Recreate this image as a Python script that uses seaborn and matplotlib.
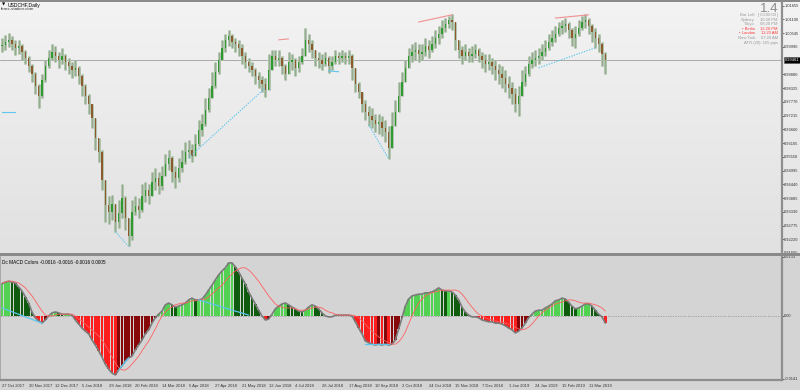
import numpy as np
import pandas as pd
import matplotlib
matplotlib.use("Agg")
import matplotlib.pyplot as plt
import matplotlib.transforms as mtrans
from matplotlib.patches import Rectangle
from matplotlib.colors import LinearSegmentedColormap
import seaborn as sns

# ---------------- data (USDCHF, 2-day bars, prices in 1e-4) ----------------
first_open_pips = 10003
close_pips = [
    10007, 10019, 10027, 10011, 9995, 10003, 9978, 9954, 9922, 9890,
    9841, 9801, 9866, 9922, 9954, 9978, 9962, 9946, 9962, 9938,
    9922, 9906, 9914, 9882, 9841, 9801, 9769, 9712, 9632, 9575,
    9463, 9362, 9334, 9366, 9293, 9326, 9390, 9309, 9237, 9334,
    9358, 9342, 9398, 9422, 9398, 9455, 9471, 9438, 9479, 9527,
    9551, 9495, 9471, 9511, 9535, 9575, 9584, 9559, 9608, 9664,
    9688, 9745, 9793, 9841, 9898, 9946, 9995, 10027, 10043, 10019,
    10011, 9995, 9962, 9938, 9922, 9906, 9882, 9866, 9850, 9825,
    9906, 9962, 9946, 9954, 9922, 9890, 9938, 9946, 9914, 9938,
    9962, 10027, 10011, 9987, 9954, 9946, 9930, 9954, 9922, 9938,
    9962, 9954, 9962, 9954, 9962, 9914, 9850, 9817, 9769, 9737,
    9721, 9704, 9688, 9696, 9672, 9656, 9592, 9680, 9737, 9801,
    9858, 9914, 9962, 9978, 9987, 9970, 9978, 10003, 9987, 10011,
    10035, 10051, 10075, 10091, 10107, 10099, 10027, 9987, 9962, 9978,
    9962, 9970, 9987, 9962, 9946, 9930, 9938, 9922, 9906, 9890,
    9874, 9850, 9833, 9809, 9769, 9801, 9858, 9890, 9930, 9946,
    9954, 9962, 9978, 9995, 10019, 10035, 10051, 10075, 10083, 10091,
    10067, 10035, 10051, 10075, 10099, 10107, 10083, 10059, 10035, 10011,
    9970, 9946]
high_pips = [
    10035, 10047, 10055, 10043, 10027, 10027, 10011, 9987, 9962, 9930,
    9898, 9850, 9890, 9946, 9987, 10011, 10003, 9978, 9995, 9970,
    9954, 9938, 9946, 9922, 9890, 9850, 9809, 9769, 9712, 9624,
    9584, 9463, 9398, 9402, 9358, 9382, 9447, 9398, 9309, 9382,
    9398, 9390, 9447, 9455, 9447, 9495, 9511, 9495, 9519, 9567,
    9584, 9559, 9519, 9551, 9584, 9616, 9624, 9608, 9648, 9704,
    9729, 9793, 9833, 9898, 9938, 9978, 10027, 10051, 10067, 10051,
    10035, 10027, 10011, 9978, 9954, 9938, 9914, 9898, 9882, 9874,
    9970, 9987, 9987, 9987, 9962, 9930, 9978, 9970, 9954, 9962,
    9995, 10075, 10051, 10027, 9987, 9978, 9970, 9978, 9962, 9962,
    9987, 9978, 9987, 9978, 9987, 9970, 9906, 9858, 9817, 9785,
    9761, 9753, 9729, 9729, 9721, 9704, 9680, 9737, 9785, 9858,
    9898, 9946, 9995, 10011, 10019, 10011, 10011, 10035, 10027, 10043,
    10067, 10083, 10107, 10115, 10124, 10132, 10099, 10027, 10003, 10011,
    9995, 10003, 10011, 9995, 9978, 9970, 9970, 9954, 9946, 9930,
    9922, 9906, 9882, 9858, 9833, 9841, 9906, 9922, 9962, 9978,
    9987, 9995, 10011, 10027, 10051, 10067, 10083, 10099, 10107, 10115,
    10099, 10075, 10083, 10107, 10124, 10132, 10115, 10091, 10075, 10051,
    10019, 9978]
low_pips = [
    9978, 9987, 9999, 9987, 9966, 9970, 9946, 9930, 9898, 9858,
    9809, 9753, 9793, 9858, 9914, 9946, 9938, 9914, 9930, 9906,
    9890, 9874, 9882, 9850, 9801, 9769, 9729, 9672, 9584, 9535,
    9422, 9293, 9285, 9301, 9253, 9269, 9309, 9261, 9193, 9221,
    9318, 9309, 9334, 9374, 9366, 9398, 9422, 9406, 9422, 9479,
    9503, 9455, 9430, 9455, 9495, 9527, 9551, 9535, 9559, 9600,
    9640, 9680, 9737, 9793, 9833, 9890, 9946, 9978, 10003, 9995,
    9978, 9962, 9930, 9914, 9898, 9882, 9850, 9833, 9817, 9797,
    9850, 9922, 9922, 9922, 9890, 9866, 9898, 9906, 9882, 9898,
    9930, 9962, 9978, 9954, 9922, 9914, 9906, 9922, 9894, 9906,
    9930, 9930, 9938, 9930, 9930, 9866, 9817, 9793, 9737, 9704,
    9680, 9672, 9656, 9648, 9640, 9616, 9547, 9624, 9680, 9753,
    9809, 9866, 9914, 9938, 9946, 9938, 9946, 9962, 9954, 9978,
    9995, 10011, 10035, 10059, 10075, 10067, 9987, 9954, 9930, 9946,
    9938, 9938, 9954, 9938, 9914, 9898, 9906, 9890, 9866, 9850,
    9833, 9817, 9793, 9769, 9737, 9721, 9809, 9841, 9882, 9914,
    9922, 9930, 9946, 9962, 9987, 10003, 10019, 10043, 10051, 10059,
    10035, 10003, 9995, 10043, 10067, 10075, 10051, 10019, 9995, 9978,
    9922, 9890]

# MACD histogram and signal, in 1e-4
macd_e4 = [
    72, 76, 78, 76, 74, 65, 56, 43, 29, 9,
    -4, -11, -16, -9, 0, 7, 9, 7, 4, 4,
    4, 2, -9, -18, -27, -34, -40, -54, -65, -78,
    -92, -108, -119, -128, -132, -121, -112, -101, -94, -90,
    -76, -65, -54, -40, -31, -16, -4, 4, 11, 25,
    29, 25, 20, 22, 25, 29, 36, 40, 36, 36,
    38, 47, 58, 69, 81, 92, 101, 108, 119, 119,
    110, 99, 85, 72, 54, 40, 27, 13, 0, -9,
    -7, 4, 16, 22, 27, 29, 25, 20, 16, 11,
    9, 13, 20, 25, 22, 16, 7, 0, -2, -2,
    2, 2, 2, 2, 2, 0, -13, -27, -40, -56,
    -60, -63, -65, -63, -65, -63, -65, -63, -54, -29,
    -4, 22, 38, 45, 47, 49, 49, 52, 52, 54,
    58, 63, 58, 56, 56, 54, 47, 36, 20, 9,
    2, -2, -2, -4, -9, -11, -13, -13, -16, -16,
    -18, -22, -27, -31, -38, -34, -27, -16, -4, 4,
    11, 13, 13, 18, 22, 27, 34, 36, 40, 38,
    31, 22, 16, 18, 22, 27, 27, 22, 13, 4,
    -2, -16]
signal_e4 = [
    74, 76, 78, 78, 76, 74, 69, 63, 54, 45,
    34, 22, 11, 2, 0, 0, 2, 4, 4, 4,
    4, 4, 0, -7, -11, -18, -25, -31, -38, -45,
    -54, -65, -78, -92, -105, -116, -121, -121, -116, -108,
    -99, -90, -78, -67, -56, -43, -29, -13, 0, 9,
    16, 20, 25, 27, 29, 29, 31, 34, 34, 36,
    36, 38, 43, 49, 56, 63, 69, 78, 87, 94,
    101, 105, 108, 108, 103, 96, 87, 78, 67, 56,
    45, 36, 27, 22, 20, 18, 18, 18, 16, 13,
    13, 13, 16, 18, 20, 20, 18, 13, 9, 7,
    4, 2, 2, 2, 2, 2, 0, -4, -11, -18,
    -27, -34, -40, -47, -52, -56, -60, -63, -63, -58,
    -49, -36, -18, 0, 16, 29, 38, 45, 49, 52,
    54, 56, 58, 58, 58, 58, 58, 56, 49, 40,
    29, 20, 11, 4, 0, -4, -7, -9, -11, -13,
    -13, -16, -18, -20, -25, -29, -31, -29, -25, -18,
    -9, 0, 7, 13, 18, 22, 27, 29, 31, 34,
    36, 36, 34, 31, 29, 29, 29, 27, 25, 22,
    18, 11]

# divergence lines: (bar0, value0, bar1, value1)
price_div_bull = [(0, 0.9737, 4, 0.9737), (34, 0.9253, 38, 0.9193),
                  (56, 0.9551, 79, 0.9833), (98, 0.9902, 101, 0.9898),
                  (110, 0.9684, 116, 0.9547), (161, 0.9914, 178, 0.9995)]
price_div_bear = [(125, 1.0099, 135, 1.0128), (166, 1.0115, 176, 1.0128),
                  (83, 1.0027, 86, 1.0031)]
macd_div_bull = [(0, 0.0018, 12, -0.0016), (35, -0.0121, 38, -0.0094),
                 (59, 0.0036, 74, 0.0002), (109, -0.0063, 116, -0.0063)]

date_labels = ["27 Oct 2017", "20 Nov 2017", "12 Dec 2017", "5 Jan 2018", "29 Jan 2018",
               "20 Feb 2018", "14 Mar 2018", "5 Apr 2018", "27 Apr 2018", "21 May 2018",
               "12 Jun 2018", "4 Jul 2018", "26 Jul 2018", "17 Aug 2018", "10 Sep 2018",
               "2 Oct 2018", "24 Oct 2018", "15 Nov 2018", "7 Dec 2018", "1 Jan 2019",
               "24 Jan 2019", "15 Feb 2019", "11 Mar 2019"]
price_tick_labels = ["0.91665", "0.92220", "0.92775", "0.93330", "0.93885", "0.94440",
                     "0.94995", "0.95550", "0.96105", "0.96660", "0.97215", "0.97770",
                     "0.98325", "0.98880", "0.99990", "1.00545", "1.01100", "1.01655"]
macd_tick_labels = ["0.0133", "0.00", "-0.0141"]
last_price = 0.99461
info_labels = ["Bar Left", "Sydney", "Tokyo", "\u2022 Berlin", "\u2022 London", "New York"]
info_values = ["[ 00:00:00 ]", "10:20 PM", "08:20 PM", "12:20 PM", "11:20 AM", "07:20 AM"]
info_red = [False, False, False, True, True, False]

# ---------------- figure ----------------
sns.set_style("white")
plt.rcParams['font.family'] = ['Liberation Sans', 'DejaVu Sans']

W, H = 800, 390
fig = plt.figure(figsize=(8, 3.9), dpi=100, facecolor='#d4d4d4')


def fy(y):
    return 1 - y / H


def ftext(x, y, s, **kw):
    fig.text(x / W, fy(y), s, **kw)


# gradient background for the price window (incl. price scale)
bgax = fig.add_axes([0, fy(253), 1, 253 / H], zorder=-5)
grad = np.linspace(0, 1, 256).reshape(-1, 1)
cmap = LinearSegmentedColormap.from_list('bg', ['#f3f3f3', '#e1e1e1'])
bgax.imshow(grad, aspect='auto', cmap=cmap, extent=[0, 1, 0, 1])
bgax.axis('off')

close = np.array(close_pips) / 1e4
high = np.array(high_pips) / 1e4
low = np.array(low_pips) / 1e4
n = len(close)
idx = np.arange(n)
opens = np.r_[first_open_pips / 1e4, close[:-1]]
hi = np.maximum(high, np.maximum(opens, close))
lo = np.minimum(low, np.minimum(opens, close))
up = close >= opens

ax = fig.add_axes([0, fy(253), 782 / W, (253 - 2) / H])
ax.set_facecolor('none')
ax.axhline(last_price, color='#a9a9a9', lw=0.7, zorder=1)
ax.vlines(idx, lo, hi, color='#b0c3ac', lw=2.1, zorder=2)
ax.vlines(idx, lo, hi, color='#7f9a7b', lw=0.4, zorder=2)
body_lo = np.minimum(opens, close)
body_h = np.maximum(np.abs(close - opens), 0.0001)
ax.bar(idx, body_h, bottom=body_lo, width=0.45,
       color=np.where(up, '#2f9a2f', '#8c5a2c'), linewidth=0, zorder=3)

for (i0, v0, i1, v1) in price_div_bull:
    ls = '-' if v0 == v1 or abs(i1 - i0) < 4 else (0, (1.2, 1.2))
    ax.plot([i0, i1], [v0, v1], color='#5bc6ee', lw=0.8, ls=ls, zorder=4)
for (i0, v0, i1, v1) in price_div_bear:
    ax.plot([i0, i1], [v0, v1], color='#f09090', lw=0.8, zorder=4)

ax.set_xlim(-0.6, 234.0)
ax.set_ylim(0.91683, 1.01798)
for s in ['left', 'top', 'bottom']:
    ax.spines[s].set_visible(False)
ax.spines['right'].set_color('#8e8e8e')
ax.spines['right'].set_linewidth(1.6)
ax.set_xticks([])
ax.yaxis.tick_right()
ax.set_yticks([float(t) for t in price_tick_labels])
ax.set_yticklabels(price_tick_labels)
ax.tick_params(axis='y', length=1.2, width=0.5, pad=0.5, labelsize=2.9,
               colors='#333333', direction='out')

trans = mtrans.blended_transform_factory(ax.transAxes, ax.transData)
ax.text(1.0035, last_price, f"{last_price:.5f}", transform=trans, fontsize=2.9,
        color='white', va='center', ha='left', clip_on=False, zorder=10,
        bbox=dict(boxstyle='square,pad=0.25', fc='black', ec='#555555', lw=0.4))

# ---------------- MACD window ----------------
macd = np.array(macd_e4) / 1e4
signal = np.array(signal_e4) / 1e4
delta = np.diff(macd, prepend=macd[0])
colors = np.where(macd >= 0,
                  np.where(delta >= 0, '#52d152', '#0f5c0f'),
                  np.where(delta <= 0, '#ff1e1e', '#860808'))

ax2 = fig.add_axes([0, fy(380), 782 / W, (380 - 256) / H], facecolor='#d4d4d4')
ax2.axhline(0, color='#9a9a9a', lw=0.6, ls=(0, (1.5, 1.5)), zorder=1)
ax2.bar(idx, macd, width=0.82, color=colors, linewidth=0, zorder=2)
ax2.plot(idx, macd, color='#7b7b7b', lw=1.2, zorder=3)
sns.lineplot(x=idx, y=signal, ax=ax2, color='#ff6060', lw=0.6, zorder=4)
for (i0, v0, i1, v1) in macd_div_bull:
    ax2.plot([i0, i1], [v0, v1], color='#5bc6ee', lw=0.9, zorder=5)

ax2.set_xlim(-0.6, 234.0)
ax2.set_ylim(-0.01434, 0.01344)
ax2.spines['top'].set_visible(False)
ax2.spines['left'].set_color('#a0a0a0')
ax2.spines['left'].set_linewidth(0.6)
for s in ['right', 'bottom']:
    ax2.spines[s].set_color('#8e8e8e')
    ax2.spines[s].set_linewidth(1.6)
ax2.yaxis.tick_right()
ax2.set_yticks([float(t) for t in macd_tick_labels])
ax2.set_yticklabels(macd_tick_labels)
ax2.tick_params(axis='y', length=1.2, width=0.5, pad=0.5, labelsize=2.9,
                colors='#333333')
ax2.set_ylabel('')
ax2.set_xticks(np.arange(len(date_labels)) * 8)
ax2.set_xticklabels(date_labels, ha='left')
ax2.tick_params(axis='x', length=2.5, width=0.5, pad=0.6, labelsize=3.0,
                colors='#333333', direction='out')

# separators
fig.patches.append(Rectangle((0, fy(256)), 1, 3.5 / H, transform=fig.transFigure,
                             facecolor='#8a8a8a', edgecolor='none', zorder=6))
fig.patches.append(Rectangle((0, fy(1.5)), 1, 1.5 / H, transform=fig.transFigure,
                             facecolor='#8a8a8a', edgecolor='none', zorder=6))

# ---------------- texts ----------------
ftext(1.5, 5, "\u25bc", fontsize=3, color='black', va='center', family=['DejaVu Sans'])
ftext(8, 5, "USDCHF,Daily", fontsize=3.6, color='black', va='center')
ftext(1, 9.5, "forex-station.com", fontsize=3.2, color='#333333', va='center')
ftext(2, 262, "Dc MACD Colors -0.0016 -0.0016 -0.0016 0.0005", fontsize=3.4,
      color='black', va='center')

ftext(778, 8.5, "1.4", fontsize=9.5, color='#8c8c8c', ha='right', va='center')
for k, (lab, val, red) in enumerate(zip(info_labels, info_values, info_red)):
    yy = 15 + k * 4.6
    col = '#ff3b3b' if red else '#9a9a9a'
    ftext(755, yy, lab, fontsize=3.0, color=col, ha='right', va='center')
    ftext(778, yy, val, fontsize=3.0, color=col, ha='right', va='center')
ftext(778, 15 + 6 * 4.6, "ATR (20): 105 pips", fontsize=3.0, color='#9a9a9a',
      ha='right', va='center')

fig.savefig("out.png", dpi=100, facecolor=fig.get_facecolor())
